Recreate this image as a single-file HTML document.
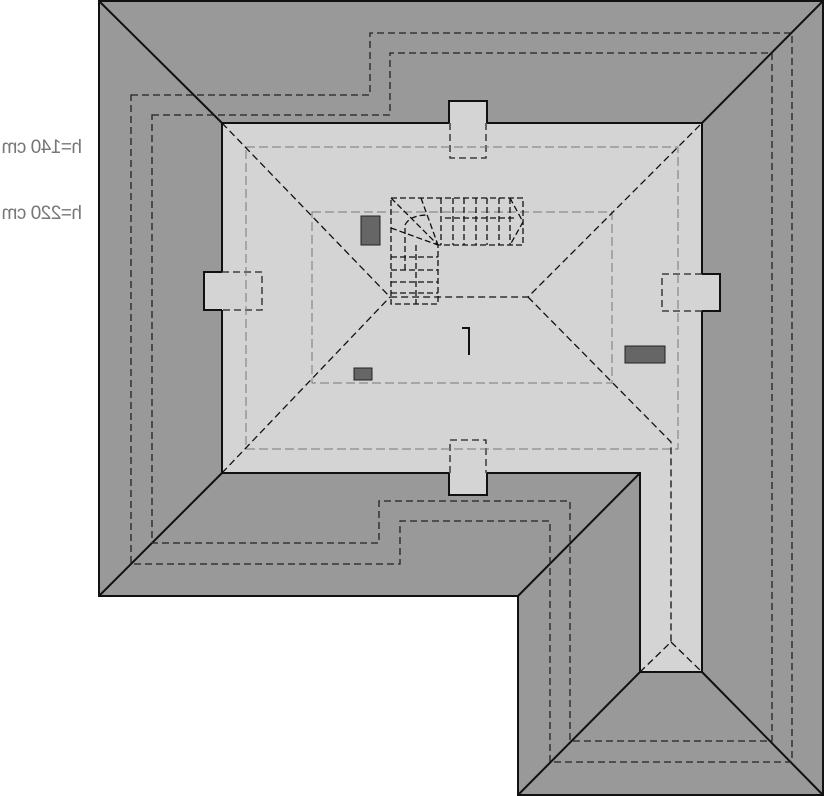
<!DOCTYPE html>
<html><head><meta charset="utf-8"><style>
html,body{margin:0;padding:0;background:#fff;width:826px;height:796px;overflow:hidden}
.t{position:absolute;font-family:"Liberation Sans",sans-serif;font-size:19px;color:#777;transform:scaleX(-1);white-space:nowrap;letter-spacing:-0.5px}
</style></head><body>
<svg width="826" height="796" style="position:absolute;left:0;top:0">
<polygon points="99,1 823,1 823,795 518,795 518,596 99,596" fill="#999" stroke="#111" stroke-width="2"/>
<polygon points="222,123 702,123 702,672 640,672 640,473 222,473" fill="#d4d4d4" stroke="#111" stroke-width="2"/>
<!-- dormers -->
<g fill="#d4d4d4" stroke="none">
<rect x="449" y="101" width="38" height="57"/>
<rect x="204" y="272" width="58" height="38"/>
<rect x="662" y="274" width="58" height="37"/>
<rect x="449" y="440" width="38" height="55"/>
</g>
<g fill="none" stroke="#111" stroke-width="2">
<path d="M449,123V101H487V123M222,272H204V310H222M702,274H720V311H702M449,473V495H487V473"/>
</g>
<g fill="none" stroke="#222" stroke-width="1.3" stroke-dasharray="7,4">
<path d="M450 123V158H486V123M222 272H262V310H222M702 274H662V311H702M450 473V440H486V473"/>
</g>
<!-- hips -->
<g stroke="#111" stroke-width="2">
<line x1="99" y1="1" x2="222" y2="123"/><line x1="823" y1="1" x2="702" y2="123"/>
<line x1="99" y1="596" x2="222" y2="473"/><line x1="518" y1="596" x2="640" y2="473"/>
<line x1="702" y1="672" x2="823" y2="795"/><line x1="640" y1="672" x2="518" y2="795"/>
</g>
<!-- eave dashed -->
<g fill="none" stroke="#222" stroke-width="1.3" stroke-dasharray="7,4">
<path d="M131,95H370V33H792V762H550V521H400V564H131Z"/>
<path d="M152,115H390V53H772V741H570V501H379V543H152Z"/>
</g>
<!-- height lines -->
<g fill="none" stroke="#777" stroke-width="1" stroke-dasharray="9,4">
<rect x="246" y="147" width="432" height="302"/>
<rect x="312" y="212" width="300" height="171"/>
</g>
<!-- ridges -->
<g fill="none" stroke="#111" stroke-width="1.3" stroke-dasharray="7,4">
<path d="M222,123L390,297H528L702,123M222,473L390,297M528,297L671,442V642L640,672M671,642L702,672"/>
</g>
<!-- stairs -->
<g fill="none" stroke="#111" stroke-width="1.3" stroke-dasharray="6,3">
<path d="M391,198H523V245H438V304H391Z"/>
<path d="M441,198V245M453,198V245M464,198V245M476,198V245M487,198V245M499,198V245M510,198V245"/>
<path d="M391,257H438M391,270H438M391,282H438M391,293H438"/>
<path d="M391,198L438,245M421,198L438,245M391,228L438,245M405,270V225Q410,215 428,215"/>
<path d="M416,245V304M445,218H516M510,198L523,222L510,245"/>
</g>
<rect x="361" y="216" width="19" height="29" fill="#666" stroke="#222"/>
<rect x="354" y="368" width="18" height="12" fill="#666" stroke="#222"/>
<rect x="625" y="346" width="40" height="17" fill="#666" stroke="#222"/>
<path d="M462,328H469V355" fill="none" stroke="#111" stroke-width="2"/>
</svg>
<div class="t" style="left:2px;top:137px">h=140 cm</div>
<div class="t" style="left:2px;top:203px">h=220 cm</div>
</body></html>
